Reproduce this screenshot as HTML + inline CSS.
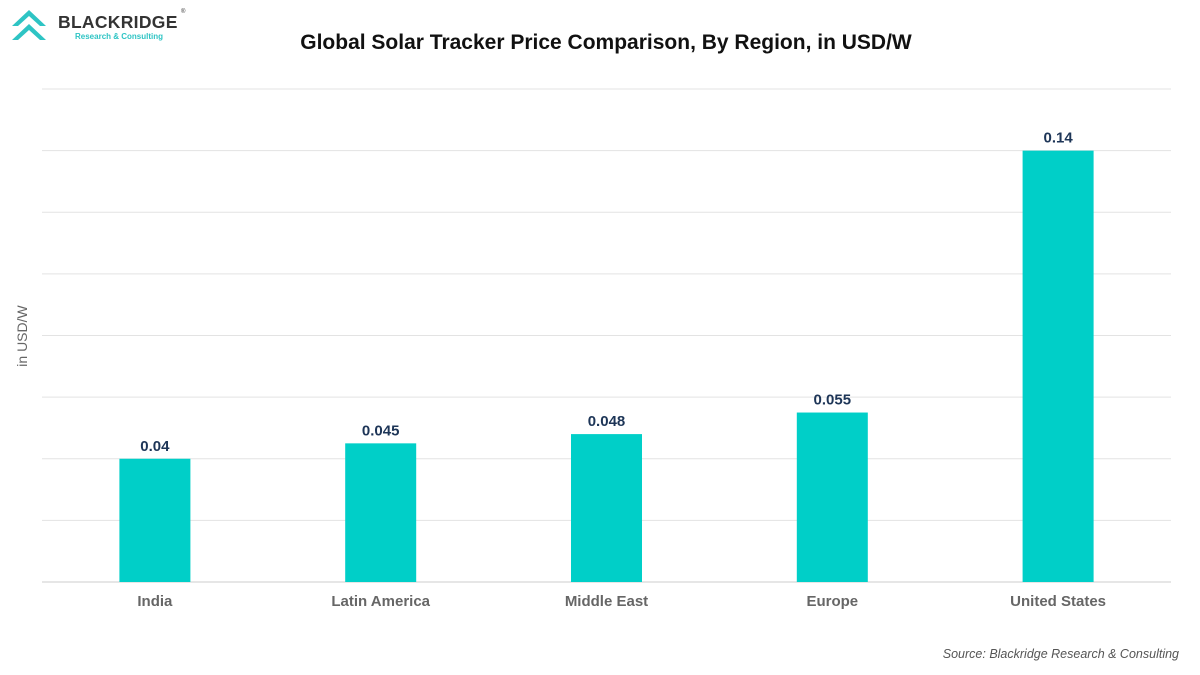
<!DOCTYPE html>
<html><head><meta charset="utf-8"><style>
body{margin:0;width:1200px;height:670px;background:#fff;font-family:"Liberation Sans",sans-serif;overflow:hidden}
</style></head><body>
<svg width="1200" height="670" xmlns="http://www.w3.org/2000/svg">
<g>
<path d="M12 26 L29 10 L46 26 L40 26 L29 16 L18 26 Z" fill="#2ec4c4"/>
<path d="M12 40 L29 24 L46 40 L40 40 L29 30 L18 40 Z" fill="#2ec4c4"/>
<text x="58" y="28" font-size="17.5" font-weight="bold" fill="#333" letter-spacing="0.3">BLACKRIDGE</text>
<text x="75" y="39" font-size="8" font-weight="bold" fill="#2ec4c4">Research &amp; Consulting</text>
<text x="181" y="13" font-size="6" fill="#333">®</text>
</g>
<text x="606" y="49" text-anchor="middle" font-size="21" font-weight="bold" fill="#111">Global Solar Tracker Price Comparison, By Region, in USD/W</text>
<text transform="translate(27,336) rotate(-90)" text-anchor="middle" font-size="14" fill="#666">in USD/W</text>
<g id="grid"></g><g id="bars"></g>
<text x="1179" y="658" text-anchor="end" font-size="12.5" font-style="italic" fill="#555">Source: Blackridge Research &amp; Consulting</text>
</svg>
<script>
const categories=["India","Latin America","Middle East","Europe","United States"];
const values=[0.04,0.045,0.048,0.055,0.14];
const valueLabels=["0.04","0.045","0.048","0.055","0.14"];
const yMax=0.16, yStep=0.02;
const L=42,R=1171,T=89,B=582;
const y=v=>B-(v/yMax)*(B-T);
const band=(R-L)/categories.length;
const x=i=>L+band*(i+0.5);
const NS="http://www.w3.org/2000/svg";
const g=document.getElementById('grid'),bg=document.getElementById('bars');
function mk(tag,attrs,parent,text){const e=document.createElementNS(NS,tag);for(const k in attrs)e.setAttribute(k,attrs[k]);if(text!=null)e.textContent=text;parent.appendChild(e);return e;}
for(let v=0;v<=yMax+1e-9;v+=yStep){
 const l=mk('line',{x1:L,x2:R,y1:y(v),y2:y(v),stroke:v===0?'#ccc':'#e3e3e3','stroke-width':1},g);
 
 
}
categories.forEach((c,i)=>{
 const r=mk('rect',{x:x(i)-35.5,y:y(values[i]),width:71,height:B-y(values[i]),fill:'#00cfc8'},bg);
 
 
 const t=mk('text',{x:x(i),y:y(values[i])-8,'text-anchor':'middle','font-size':15,'font-weight':'bold',fill:'#1d3557'},bg,valueLabels[i]);
 
 
 const a=mk('text',{x:x(i),y:606,'text-anchor':'middle','font-size':15,'font-weight':'bold',fill:'#666'},bg,c);
 
 
});
</script>
</body></html>
